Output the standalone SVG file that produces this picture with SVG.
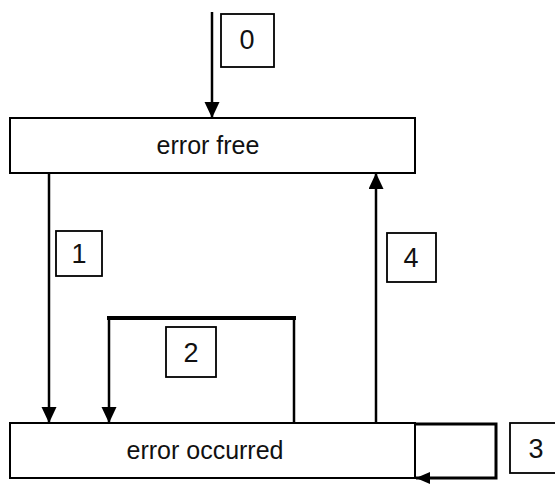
<svg xmlns="http://www.w3.org/2000/svg" width="555" height="484" viewBox="0 0 555 484">
<style>
.state{fill:#fff;stroke:#000;stroke-width:2}
.lbl{fill:#fff;stroke:#000;stroke-width:1.8}
.t{font-family:"Liberation Sans",Arial,sans-serif;font-size:25px;fill:#111;text-anchor:middle}
.n{font-family:"Liberation Sans",Arial,sans-serif;font-size:27px;fill:#111;text-anchor:middle}
.c{fill:none;stroke:#000;stroke-width:2.5}
</style>
<defs>
<marker id="ah" markerUnits="userSpaceOnUse" markerWidth="16" markerHeight="16" refX="16" refY="7.5" orient="auto">
<path d="M0,0 L16,7.5 L0,15 z" fill="#000"/>
</marker>
<marker id="ah3" markerUnits="userSpaceOnUse" markerWidth="15" markerHeight="13" refX="14" refY="6" orient="auto">
<path d="M0,0 L14,6 L0,12 z" fill="#000"/>
</marker>
</defs>
<g id="error-free">
<rect class="state" x="10" y="118" width="405" height="55"/>
<text class="t" x="208" y="154">error free</text>
</g>
<g id="error-occurred">
<rect class="state" x="10" y="423" width="405" height="55"/>
<text class="t" x="205" y="459">error occurred</text>
</g>
<g id="connectors">
<line class="c" x1="212" y1="12" x2="212" y2="118" marker-end="url(#ah)"/>
<line class="c" x1="49" y1="173" x2="49" y2="423" marker-end="url(#ah)"/>
<path class="c" d="M294,423 V318 M109,318 V423" marker-end="url(#ah)"/>
<line x1="107" y1="318" x2="296" y2="318" stroke="#000" stroke-width="4"/>
<line class="c" x1="376" y1="423" x2="376" y2="173" marker-end="url(#ah)"/>
<path d="M415,424 H496 V478 H416" fill="none" stroke="#000" stroke-width="3" marker-end="url(#ah3)"/>
</g>
<g id="label-0">
<rect class="lbl" x="221" y="14" width="53" height="53"/>
<text class="n" x="247" y="49">0</text>
</g>
<g id="label-1">
<rect class="lbl" x="56" y="231" width="46" height="45"/>
<text class="n" x="79" y="263">1</text>
</g>
<g id="label-2">
<rect class="lbl" x="166" y="327" width="50" height="50"/>
<text class="n" x="191" y="362">2</text>
</g>
<g id="label-3">
<rect class="lbl" x="510" y="423" width="51" height="50"/>
<text class="n" x="536" y="458">3</text>
</g>
<g id="label-4">
<rect class="lbl" x="387" y="233" width="49" height="49"/>
<text class="n" x="411" y="267">4</text>
</g>
</svg>
